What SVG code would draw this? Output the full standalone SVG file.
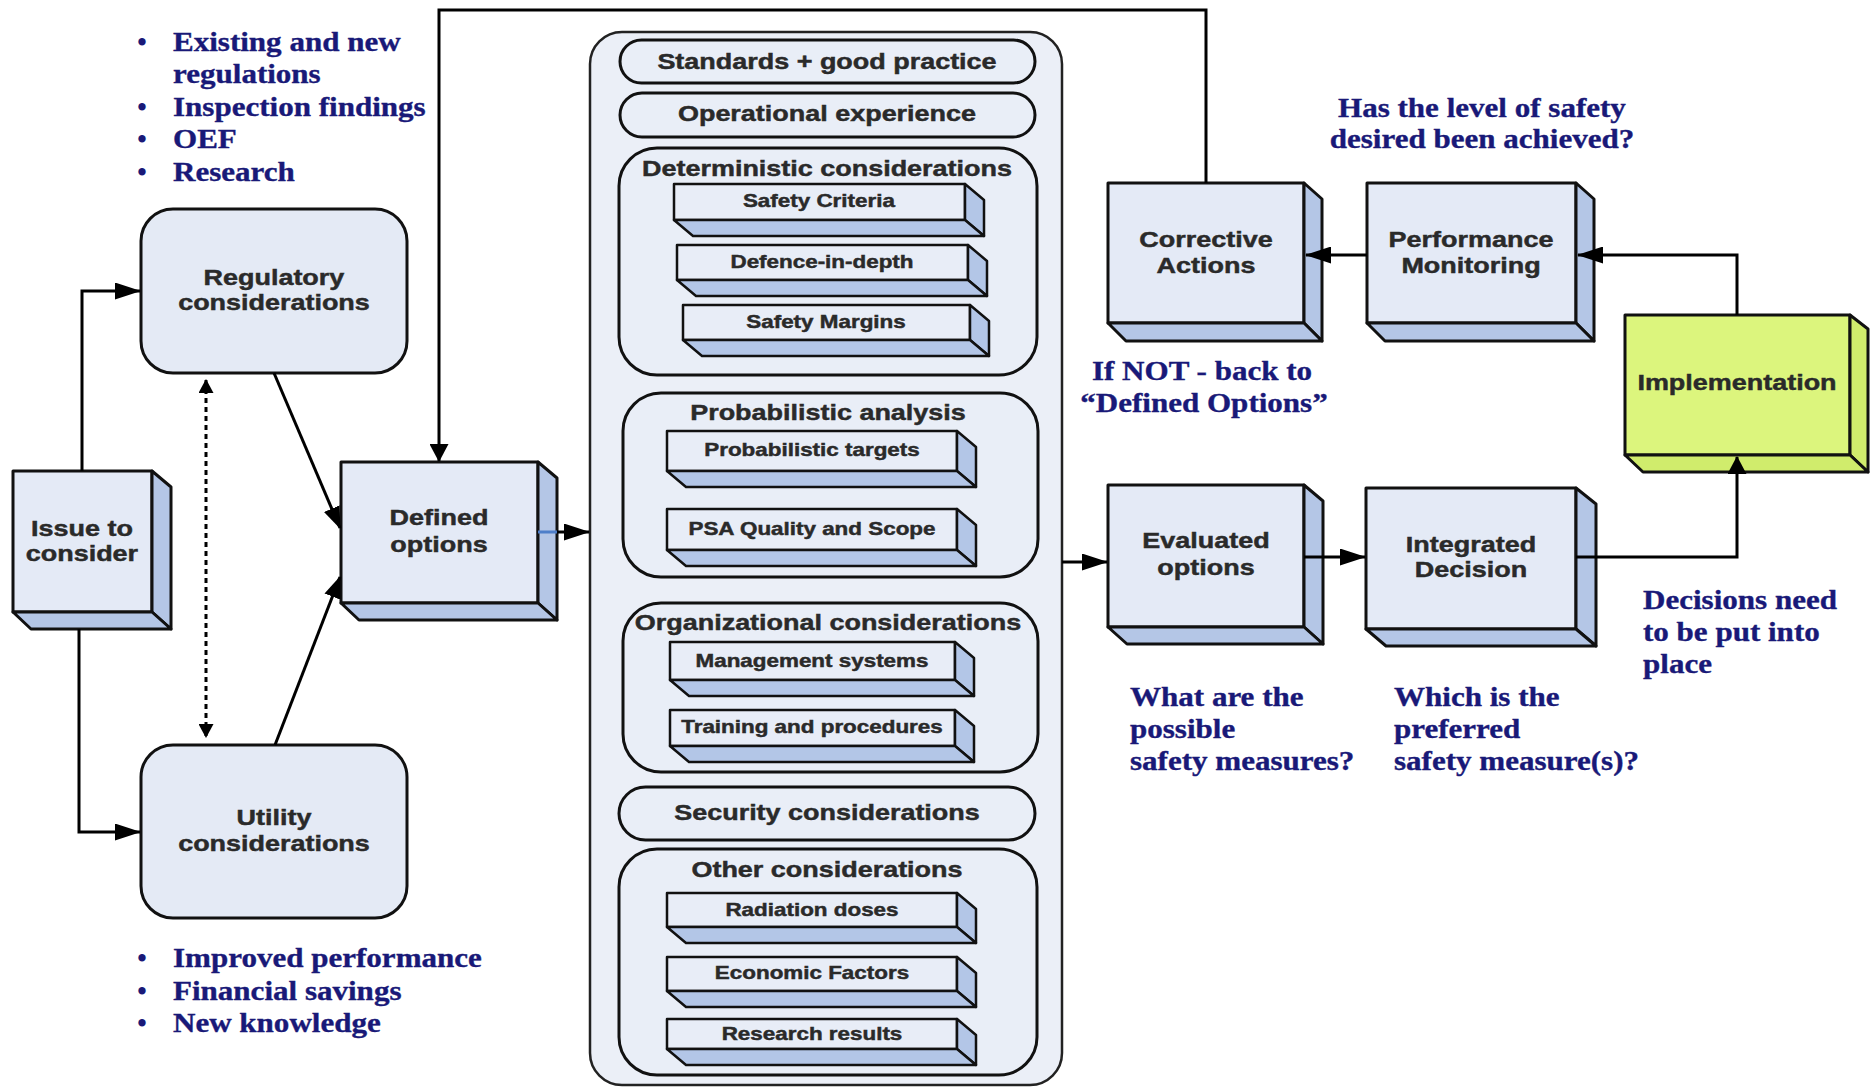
<svg xmlns="http://www.w3.org/2000/svg" width="1873" height="1087" viewBox="0 0 1873 1087">
<defs>
<style>
.n{font-family:"Liberation Sans",Arial,sans-serif;font-weight:bold;fill:#2a2a2a;stroke:#2a2a2a;stroke-width:0.45;text-anchor:middle;transform-box:fill-box;transform-origin:50% 50%;transform:scaleX(1.26)}
.lbl{font-size:21.4px}
.ttl{font-size:21.4px}
.bl{font-size:17.8px}
.tm{font-family:"Liberation Serif","Times New Roman",serif;font-weight:bold;font-size:27px;fill:#191978;stroke:#191978;stroke-width:0.35;transform-box:fill-box;transform-origin:0 50%;transform:scaleX(1.15)}
.tmc{text-anchor:middle;transform-origin:50% 50%}
.bul{font-family:"Liberation Serif","Times New Roman",serif;font-weight:bold;font-size:27px;fill:#191978;text-anchor:middle}
.front{fill:#e4eaf6;stroke:#111;stroke-width:3;stroke-linejoin:round}
.side{fill:#b4c6e6;stroke:#111;stroke-width:3;stroke-linejoin:round}
.gfront{fill:#dcf57d;stroke:#111;stroke-width:3;stroke-linejoin:round}
.gside{fill:#d0ec6c;stroke:#111;stroke-width:3;stroke-linejoin:round}
.bfront{fill:#e8edf7;stroke:#111;stroke-width:2.5;stroke-linejoin:round}
.bside{fill:#b3c6e7;stroke:#111;stroke-width:2.5;stroke-linejoin:round}
.rr{fill:#e4eaf5;stroke:#111;stroke-width:3}
.cont{fill:#ebeff7;stroke:#222;stroke-width:2.5}
.grp{fill:#e9eef7;stroke:#111;stroke-width:3}
.c{fill:none;stroke:#000;stroke-width:3}
.h{marker-end:url(#ah)}
.v{marker-end:url(#av)}
.d{marker-end:url(#ad)}
</style>
<marker id="ah" viewBox="0 0 26 17" refX="25" refY="8.5" markerWidth="26" markerHeight="17" orient="auto" markerUnits="userSpaceOnUse"><path d="M0,0 L26,8.5 L0,17 z" fill="#000"/></marker>
<marker id="av" viewBox="0 0 18 19" refX="17" refY="9.5" markerWidth="18" markerHeight="19" orient="auto" markerUnits="userSpaceOnUse"><path d="M0,0 L18,9.5 L0,19 z" fill="#000"/></marker>
<marker id="ad" viewBox="0 0 22 17" refX="21" refY="8.5" markerWidth="22" markerHeight="17" orient="auto" markerUnits="userSpaceOnUse"><path d="M0,0 L22,8.5 L0,17 z" fill="#000"/></marker>
<marker id="as" viewBox="0 0 14 15" refX="13" refY="7.5" markerWidth="14" markerHeight="15" orient="auto-start-reverse" markerUnits="userSpaceOnUse"><path d="M0,0 L14,7.5 L0,15 z" fill="#000"/></marker>
</defs>
<rect width="1873" height="1087" fill="#fff"/>

<!-- Notes -->
<g id="notes-regulatory">
<text class="bul" x="142" y="51">•</text><text class="tm" x="173" y="51">Existing and new</text>
<text class="tm" x="173" y="83">regulations</text>
<text class="bul" x="142" y="116">•</text><text class="tm" x="173" y="116">Inspection findings</text>
<text class="bul" x="142" y="148">•</text><text class="tm" x="173" y="148">OEF</text>
<text class="bul" x="142" y="181">•</text><text class="tm" x="173" y="181">Research</text>
</g>
<g id="notes-utility">
<text class="bul" x="142" y="967">•</text><text class="tm" x="173" y="967">Improved performance</text>
<text class="bul" x="142" y="1000">•</text><text class="tm" x="173" y="1000">Financial savings</text>
<text class="bul" x="142" y="1032">•</text><text class="tm" x="173" y="1032">New knowledge</text>
</g>
<g id="notes-right">
<text class="tm tmc" x="1482" y="117">Has the level of safety</text>
<text class="tm tmc" x="1482" y="148">desired been achieved?</text>
<text class="tm tmc" x="1202" y="380">If NOT - back to</text>
<text class="tm tmc" x="1204" y="412">“Defined Options”</text>
<text class="tm" x="1643" y="609">Decisions need</text>
<text class="tm" x="1643" y="641">to be put into</text>
<text class="tm" x="1643" y="673">place</text>
<text class="tm" x="1130" y="706">What are the</text>
<text class="tm" x="1130" y="738">possible</text>
<text class="tm" x="1130" y="770">safety measures?</text>
<text class="tm" x="1394" y="706">Which is the</text>
<text class="tm" x="1394" y="738">preferred</text>
<text class="tm" x="1394" y="770">safety measure(s)?</text>
</g>

<!-- Left nodes -->
<g id="issue">
<rect class="front" x="13" y="471" width="139" height="141"/>
<polygon class="side" points="152,471 171,487 171,629 152,612"/>
<polygon class="side" points="13,612 31,629 171,629 152,612"/>
<text class="n lbl" x="82" y="536">Issue to</text>
<text class="n lbl" x="82" y="561">consider</text>
</g>
<g id="regulatory">
<rect class="rr" x="141" y="209" width="266" height="164" rx="32"/>
<text class="n lbl" x="274" y="285">Regulatory</text>
<text class="n lbl" x="274" y="310">considerations</text>
</g>
<g id="utility">
<rect class="rr" x="141" y="745" width="266" height="173" rx="32"/>
<text class="n lbl" x="274" y="825">Utility</text>
<text class="n lbl" x="274" y="851">considerations</text>
</g>
<g id="defined">
<rect class="front" x="341" y="462" width="197" height="141"/>
<polygon class="side" points="538,462 557,478 557,620 538,603"/>
<polygon class="side" points="341,603 359,620 557,620 538,603"/>
<text class="n lbl" x="439" y="525">Defined</text>
<text class="n lbl" x="439" y="552">options</text>
</g>

<!-- Central container -->
<g id="considerations">
<rect class="cont" x="590" y="32" width="472" height="1053" rx="32"/>
<g id="standards">
<rect class="grp" x="620" y="40" width="415" height="43" rx="21.5"/>
<text class="n ttl" x="827" y="69">Standards + good practice</text>
</g>
<g id="operational">
<rect class="grp" x="620" y="93" width="415" height="44" rx="22"/>
<text class="n ttl" x="827" y="121">Operational experience</text>
</g>
<g id="deterministic">
<rect class="grp" x="619" y="148" width="418" height="227" rx="38"/>
<text class="n ttl" x="827" y="176">Deterministic considerations</text>
<g id="safety-criteria">
<rect class="bfront" x="674" y="184" width="291" height="36"/>
<polygon class="bside" points="965,184 984,200 984,236 965,220"/>
<polygon class="bside" points="674,220 693,236 984,236 965,220"/>
<text class="n bl" x="819" y="207">Safety Criteria</text>
</g>
<g id="defence">
<rect class="bfront" x="677" y="245" width="291" height="35"/>
<polygon class="bside" points="968,245 987,261 987,296 968,280"/>
<polygon class="bside" points="677,280 696,296 987,296 968,280"/>
<text class="n bl" x="822" y="268">Defence-in-depth</text>
</g>
<g id="safety-margins">
<rect class="bfront" x="683" y="305" width="287" height="35"/>
<polygon class="bside" points="970,305 989,321 989,356 970,340"/>
<polygon class="bside" points="683,340 702,356 989,356 970,340"/>
<text class="n bl" x="826" y="328">Safety Margins</text>
</g>
</g>
<g id="probabilistic">
<rect class="grp" x="623" y="393" width="415" height="184" rx="38"/>
<text class="n ttl" x="828" y="420">Probabilistic analysis</text>
<g id="prob-targets">
<rect class="bfront" x="667" y="431" width="290" height="40"/>
<polygon class="bside" points="957,431 976,447 976,487 957,471"/>
<polygon class="bside" points="667,471 686,487 976,487 957,471"/>
<text class="n bl" x="812" y="456">Probabilistic  targets</text>
</g>
<g id="psa">
<rect class="bfront" x="667" y="509" width="290" height="41"/>
<polygon class="bside" points="957,509 976,525 976,566 957,550"/>
<polygon class="bside" points="667,550 686,566 976,566 957,550"/>
<text class="n bl" x="812" y="535">PSA Quality and Scope</text>
</g>
</g>
<g id="organizational">
<rect class="grp" x="623" y="603" width="415" height="169" rx="38"/>
<text class="n ttl" x="828" y="630">Organizational considerations</text>
<g id="management">
<rect class="bfront" x="670" y="642" width="285" height="38"/>
<polygon class="bside" points="955,642 974,658 974,696 955,680"/>
<polygon class="bside" points="670,680 689,696 974,696 955,680"/>
<text class="n bl" x="812" y="667">Management systems</text>
</g>
<g id="training">
<rect class="bfront" x="670" y="710" width="285" height="36"/>
<polygon class="bside" points="955,710 974,726 974,762 955,746"/>
<polygon class="bside" points="670,746 689,762 974,762 955,746"/>
<text class="n bl" x="812" y="733">Training and procedures</text>
</g>
</g>
<g id="security">
<rect class="grp" x="619" y="787" width="416" height="53" rx="26.5"/>
<text class="n ttl" x="827" y="820">Security considerations</text>
</g>
<g id="other">
<rect class="grp" x="619" y="849" width="418" height="226" rx="38"/>
<text class="n ttl" x="827" y="877">Other considerations</text>
<g id="radiation">
<rect class="bfront" x="667" y="893" width="290" height="34"/>
<polygon class="bside" points="957,893 976,909 976,943 957,927"/>
<polygon class="bside" points="667,927 686,943 976,943 957,927"/>
<text class="n bl" x="812" y="916">Radiation doses</text>
</g>
<g id="economic">
<rect class="bfront" x="667" y="957" width="290" height="34"/>
<polygon class="bside" points="957,957 976,973 976,1007 957,991"/>
<polygon class="bside" points="667,991 686,1007 976,1007 957,991"/>
<text class="n bl" x="812" y="979">Economic Factors</text>
</g>
<g id="research">
<rect class="bfront" x="667" y="1019" width="290" height="30"/>
<polygon class="bside" points="957,1019 976,1035 976,1065 957,1049"/>
<polygon class="bside" points="667,1049 686,1065 976,1065 957,1049"/>
<text class="n bl" x="812" y="1040">Research results</text>
</g>
</g>
</g>

<!-- Right nodes -->
<g id="corrective">
<rect class="front" x="1108" y="183" width="196" height="140"/>
<polygon class="side" points="1304,183 1322,199 1322,341 1304,323"/>
<polygon class="side" points="1108,323 1126,341 1322,341 1304,323"/>
<text class="n lbl" x="1206" y="247">Corrective</text>
<text class="n lbl" x="1206" y="273">Actions</text>
</g>
<g id="performance">
<rect class="front" x="1367" y="183" width="209" height="140"/>
<polygon class="side" points="1576,183 1594,199 1594,341 1576,323"/>
<polygon class="side" points="1367,323 1385,341 1594,341 1576,323"/>
<text class="n lbl" x="1471" y="247">Performance</text>
<text class="n lbl" x="1471" y="273">Monitoring</text>
</g>
<g id="evaluated">
<rect class="front" x="1108" y="485" width="196" height="142"/>
<polygon class="side" points="1304,485 1323,501 1323,644 1304,627"/>
<polygon class="side" points="1108,627 1127,644 1323,644 1304,627"/>
<text class="n lbl" x="1206" y="548">Evaluated</text>
<text class="n lbl" x="1206" y="575">options</text>
</g>
<g id="integrated">
<rect class="front" x="1366" y="488" width="210" height="141"/>
<polygon class="side" points="1576,488 1596,504 1596,646 1576,629"/>
<polygon class="side" points="1366,629 1386,646 1596,646 1576,629"/>
<text class="n lbl" x="1471" y="552">Integrated</text>
<text class="n lbl" x="1471" y="577">Decision</text>
</g>
<g id="implementation">
<rect class="gfront" x="1625" y="315" width="225" height="140"/>
<polygon class="gside" points="1850,315 1868,329 1868,472 1850,455"/>
<polygon class="gside" points="1625,455 1643,472 1868,472 1850,455"/>
<text class="n lbl" x="1737" y="390">Implementation</text>
</g>

<!-- Connectors -->
<g id="connectors">
<path class="c h" d="M82,471 V291 H140"/>
<path class="c h" d="M79,629 V832 H140"/>
<path d="M206,380 V737" fill="none" stroke="#000" stroke-width="3" stroke-dasharray="5,4" marker-start="url(#as)" marker-end="url(#as)"/>
<path class="c d" d="M274,373 L340,528"/>
<path class="c d" d="M275,745 L340,577"/>
<path class="c v" d="M1206,183 V10 H439 V461"/>
<path class="c h" d="M557,532 H589"/>
<path d="M538,532 H557" stroke="#4f7fc9" stroke-width="3"/>
<path class="c h" d="M1062,562 H1107"/>
<path class="c h" d="M1304,557 H1365"/>
<path class="c v" d="M1576,557 H1737 V457"/>
<path class="c h" d="M1737,315 V255 H1578"/>
<path class="c h" d="M1367,255 H1306"/>
</g>
</svg>
